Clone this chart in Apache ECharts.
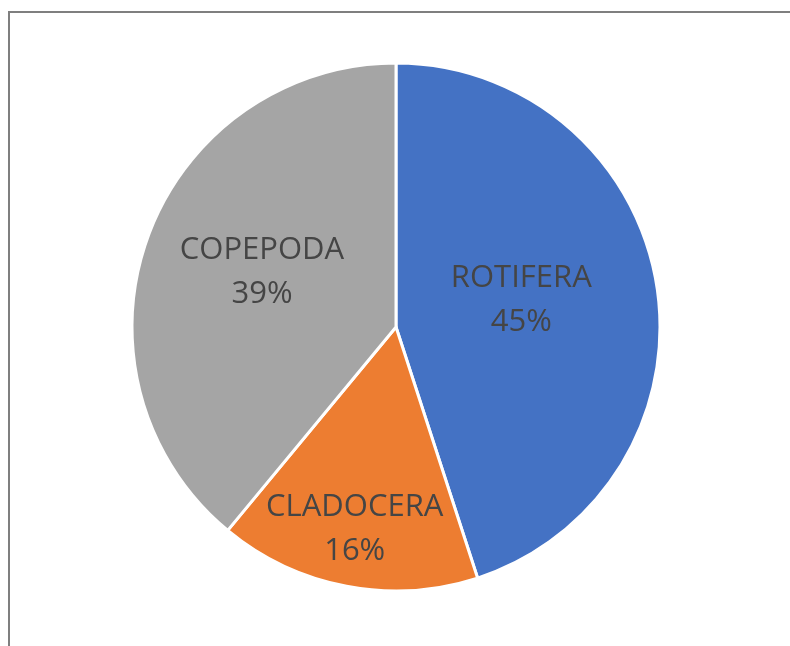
<!DOCTYPE html>
<html>
<head>
<meta charset="utf-8">
<script src="https://cdn.jsdelivr.net/npm/echarts@6/dist/echarts.min.js"></script>
<style>
html,body{margin:0;padding:0;background:#fff;}
#chart{width:790px;height:646px;}
</style>
</head>
<body>
<div id="chart"></div>
<script>
var categories = ['ROTIFERA', 'CLADOCERA', 'COPEPODA'];
var percentages = [45, 16, 39];
var sliceColors = ['#4472C4', '#ED7D31', '#A5A5A5'];

// label nudges (layout only) to mimic best-fit placement
var labelShift = [[-8, -6], [-16, 70], [-7, -9]];

var chart = echarts.init(document.getElementById('chart'), null, {renderer: 'canvas'});
chart.setOption({
  backgroundColor: '#ffffff',
  animation: false,
  graphic: [{
    type: 'rect',
    shape: {x: 9, y: 12, width: 800, height: 660},
    style: {fill: 'none', stroke: '#7f7f7f', lineWidth: 2},
    silent: true
  }],
  series: [{
    type: 'pie',
    center: [396, 327],
    radius: [0, 264],
    startAngle: 90,
    clockwise: true,
    data: categories.map(function (c, i) {
      return {name: c, value: percentages[i], itemStyle: {color: sliceColors[i]}};
    }),
    itemStyle: {borderColor: '#ffffff', borderWidth: 3},
    label: {
      show: true,
      position: 'inside',
      formatter: '{b}\n{d}%',
      color: '#454545',
      fontFamily: 'Open Sans',
      fontSize: 31,
      lineHeight: 44,
      align: 'center'
    },
    labelLine: {show: false},
    labelLayout: function (p) {
      var s = labelShift[p.dataIndex];
      return {dx: s[0], dy: s[1]};
    },
    emphasis: {disabled: true}
  }]
});
</script>
</body>
</html>
